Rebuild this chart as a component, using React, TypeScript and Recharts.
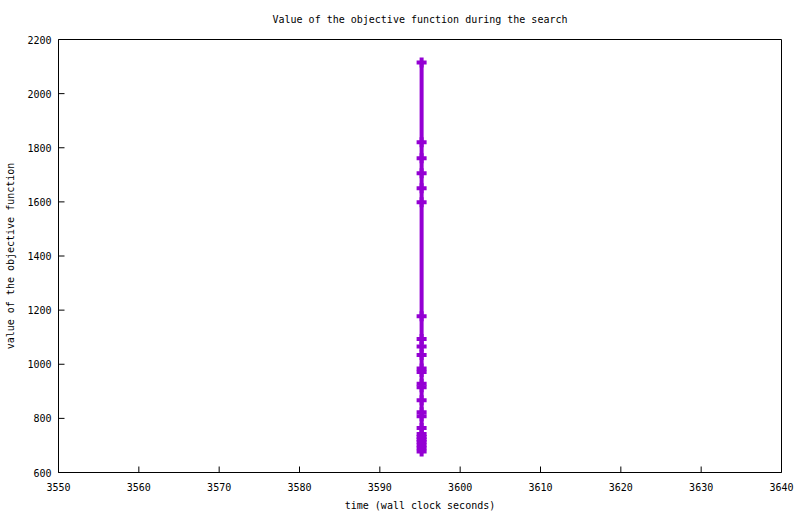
import React from "react";
import { LineChart, Line, XAxis, YAxis, Label } from "recharts";

// wall clock time of each improvement (seconds)
const times = [
  3595.2, 3595.2, 3595.2, 3595.2, 3595.2, 3595.2, 3595.2, 3595.2, 3595.2,
  3595.2, 3595.2, 3595.2, 3595.2, 3595.2, 3595.2, 3595.2, 3595.2, 3595.2,
  3595.2, 3595.2, 3595.2, 3595.2, 3595.2, 3595.2, 3595.2,
];
// objective value at each improvement
const objective = [
  2115, 1820, 1761, 1706, 1650, 1599, 1177, 1093, 1066, 1034, 984, 971, 928,
  915, 867, 823, 808, 764, 742, 731, 722, 713, 701, 690, 678,
];

const xTicks = [3550, 3560, 3570, 3580, 3590, 3600, 3610, 3620, 3630, 3640];
const yTicks = [600, 800, 1000, 1200, 1400, 1600, 1800, 2000, 2200];

const data = times.map((t, i) => ({ time: t, value: objective[i] }));

const FONT = "'DejaVu Sans Mono', monospace";
const COLOR = "#9400D3";

const BottomTick = ({ x, y, payload }: any) => (
  <g>
    <line x1={x} y1={y} x2={x} y2={y - 6} stroke="#000" />
    <text x={x} y={y + 18} textAnchor="middle" fontFamily={FONT} fontSize={10} fill="#000">
      {payload.value}
    </text>
  </g>
);

const TopTick = ({ x, y }: any) => <line x1={x} y1={y} x2={x} y2={y + 6} stroke="#000" />;

const LeftTick = ({ x, y, payload }: any) => (
  <g>
    <line x1={x} y1={y} x2={x + 6} y2={y} stroke="#000" />
    <text x={x - 7} y={y + 4} textAnchor="end" fontFamily={FONT} fontSize={10} fill="#000">
      {payload.value}
    </text>
  </g>
);

const RightTick = ({ x, y }: any) => <line x1={x} y1={y} x2={x - 6} y2={y} stroke="#000" />;

const renderPlus = (p: any) => {
  const { cx, cy, index } = p;
  if (cx == null || cy == null) return <g key={`p-${index}`} />;
  return (
    <path
      key={`p-${index}`}
      d={`M${cx - 5},${cy}H${cx + 5}M${cx},${cy - 5}V${cy + 5}`}
      stroke={COLOR}
      strokeWidth={4}
      fill="none"
    />
  );
};

export default function App() {
  return (
    <div style={{ position: "absolute", left: 0, top: 0, width: 800, height: 514, background: "#fff" }}>
      <LineChart width={800} height={514} data={data} margin={{ top: 0, right: 0, bottom: 0, left: 0 }}>
        <XAxis
          dataKey="time"
          type="number"
          domain={[3550, 3640]}
          ticks={xTicks}
          interval={0}
          height={41.5}
          tickSize={0}
          tickMargin={0}
          tick={<BottomTick />}
          tickLine={false}
          axisLine={{ stroke: "#000" }}
        >
          <Label
            content={({ viewBox }: any) => (
              <text
                x={viewBox.x + viewBox.width / 2}
                y={viewBox.y + 36}
                textAnchor="middle"
                fontFamily={FONT}
                fontSize={10}
                fill="#000"
              >
                time (wall clock seconds)
              </text>
            )}
          />
        </XAxis>
        <XAxis
          xAxisId="top"
          orientation="top"
          type="number"
          domain={[3550, 3640]}
          ticks={xTicks}
          interval={0}
          height={39.5}
          tickSize={0}
          tickMargin={0}
          tick={<TopTick />}
          tickLine={false}
          axisLine={{ stroke: "#000" }}
        >
          <Label
            content={({ viewBox }: any) => (
              <text
                x={viewBox.x + viewBox.width / 2}
                y={23}
                textAnchor="middle"
                fontFamily={FONT}
                fontSize={10}
                fill="#000"
              >
                Value of the objective function during the search
              </text>
            )}
          />
        </XAxis>
        <YAxis
          type="number"
          domain={[600, 2200]}
          ticks={yTicks}
          interval={0}
          width={58.5}
          tickSize={0}
          tickMargin={0}
          tick={<LeftTick />}
          tickLine={false}
          axisLine={{ stroke: "#000" }}
        >
          <Label
            content={({ viewBox }: any) => {
              const cx = 14;
              const cy = viewBox.y + viewBox.height / 2;
              return (
                <text
                  x={cx}
                  y={cy}
                  transform={`rotate(-90 ${cx} ${cy})`}
                  textAnchor="middle"
                  fontFamily={FONT}
                  fontSize={10}
                  fill="#000"
                >
                  value of the objective function
                </text>
              );
            }}
          />
        </YAxis>
        <YAxis
          yAxisId="right"
          orientation="right"
          type="number"
          domain={[600, 2200]}
          ticks={yTicks}
          interval={0}
          width={18.5}
          tickSize={0}
          tickMargin={0}
          tick={<RightTick />}
          tickLine={false}
          axisLine={{ stroke: "#000" }}
        />
        <Line
          type="linear"
          dataKey="value"
          stroke={COLOR}
          strokeWidth={4}
          dot={renderPlus}
          activeDot={false}
          isAnimationActive={false}
        />
      </LineChart>
    </div>
  );
}
